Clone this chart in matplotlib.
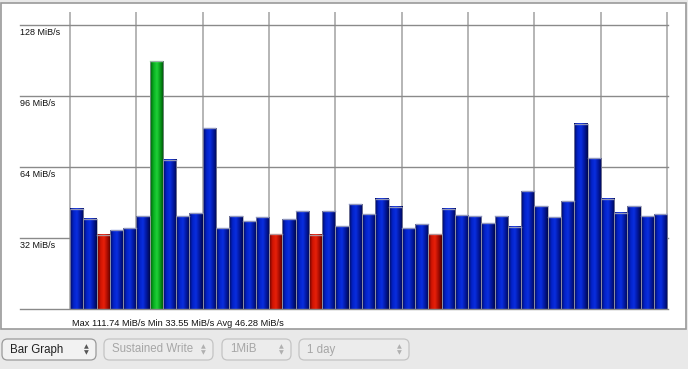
import numpy as np
import matplotlib
matplotlib.use("Agg")
import matplotlib.pyplot as plt
from matplotlib.colors import LinearSegmentedColormap
from matplotlib.patches import Rectangle, FancyBboxPatch

# valores (MiB/s), 45 barras
speeds = [45.1, 40.7, 33.55, 35.6, 36.5, 41.9, 111.74, 67.2, 41.9, 43.1,
          81.4, 36.5, 41.9, 39.5, 41.3, 33.7, 40.4, 44.0, 33.4, 44.0,
          37.3, 47.3, 42.8, 49.7, 46.1, 36.5, 38.2, 33.7, 45.2, 42.2,
          41.9, 38.6, 41.9, 37.0, 53.0, 46.3, 41.3, 48.5, 83.4, 67.9,
          49.6, 43.3, 46.3, 41.9, 42.7]
y_ticks = [32, 64, 96, 128]
y_tick_labels = ["32 MiB/s", "64 MiB/s", "96 MiB/s", "128 MiB/s"]
stat_max, stat_min, stat_avg = 111.74, 33.55, 46.28
buttons = ["Bar Graph", "Sustained Write", "1MiB", "1 day"]

W, H = 688, 369
fig = plt.figure(figsize=(W / 100, H / 100), dpi=100)
fig.patch.set_facecolor("#e9e9e9")

def px(x0, y0, x1, y1):
    # rectangulo en pixeles (origen arriba a la izquierda) -> fraccion de figura
    return x0 / W, 1 - y1 / H, (x1 - x0) / W, (y1 - y0) / H

# panel blanco
l, b, w, h = px(1, 3, 686, 329)
fig.patches.append(Rectangle((l, b), w, h, transform=fig.transFigure,
                             facecolor="white", edgecolor="#9a9a9a", lw=1.2, zorder=-5))

ax = fig.add_axes(px(20, 11.7, 668, 309))
ax.set_zorder(2)
ax.set_facecolor("none")
for s in ax.spines.values():
    s.set_visible(False)
ax.set_xticks([])
ax.set_yticks([])

n = len(speeds)
xs = np.arange(n)

# rejilla
for k in range(0, n + 1, 5):
    ax.axvline(k - 0.5, color="#b0b0b0", lw=1.3, zorder=1)
for v in [0] + y_ticks:
    ax.axhline(v, color="#8a8a8a", lw=1.0, zorder=4 if v == 0 else 1, clip_on=False)

cmaps = {
    "blue": LinearSegmentedColormap.from_list("b", ["#000a5c", "#0322c8", "#0a2ee0", "#0218a0", "#000850"]),
    "red": LinearSegmentedColormap.from_list("r", ["#600000", "#d01403", "#e8200a", "#a80c02", "#540000"]),
    "green": LinearSegmentedColormap.from_list("g", ["#005c0a", "#08b020", "#20d038", "#069818", "#004c08"]),
}
tops = {"blue": "#7f8fe0", "red": "#e08a80", "green": "#a0e8a8"}
grad = np.linspace(0, 1, 40).reshape(1, -1)
vmax = max(speeds)

for x, v in zip(xs, speeds):
    if v == vmax:
        c = "green"
    elif v < 34:
        c = "red"
    else:
        c = "blue"
    ax.imshow(grad, cmap=cmaps[c], extent=(x - 0.5, x + 0.5, 0, v),
              aspect="auto", interpolation="bilinear", zorder=2)
    ax.plot([x - 0.45, x + 0.45], [v, v], color=tops[c], lw=1.0, zorder=3)

ax.bar(xs, speeds, width=1.0, facecolor="none", edgecolor="#9a9aa8", lw=0.5, zorder=3)
ax.set_xlim(-4.27, 44.56)
ax.set_ylim(0, 134)

for v, t in zip(y_ticks, y_tick_labels):
    ax.annotate(t, xy=(-4.27, v), xytext=(0, -2), textcoords="offset points",
                ha="left", va="top", fontsize=6.5, family="Liberation Sans", color="#111111")

fig.text(72 / W, 1 - 323.5 / H,
         f"Max {stat_max:.2f} MiB/s Min {stat_min:.2f} MiB/s Avg {stat_avg:.2f} MiB/s",
         ha="left", va="center", fontsize=6.7, family="Liberation Sans", color="#111111")

# botones de abajo
btn_x = [(2, 96), (104, 213), (222, 291), (299, 409)]
for i, (label, (x0, x1)) in enumerate(zip(buttons, btn_x)):
    active = i == 0
    l, b, w, h = px(x0, 339, x1, 360)
    fig.patches.append(FancyBboxPatch((l, b), w, h, boxstyle="round,pad=0,rounding_size=0.008",
                                      transform=fig.transFigure, mutation_aspect=W / H,
                                      facecolor="#f2f2f2" if active else "#ececec",
                                      edgecolor="#9a9a9a" if active else "#c4c4c4", lw=0.9))
    tc = "#222222" if active else "#a6a6a6"
    fig.text((x0 + 8) / W, 1 - 349.5 / H, label, ha="left", va="center",
             fontsize=8.3, family="Liberation Sans", color=tc)
    fig.text((x1 - 10) / W, 1 - 346.5 / H, "▲", ha="center", va="center",
             fontsize=4.5, color="#555555" if active else "#b0b0b0")
    fig.text((x1 - 10) / W, 1 - 352.5 / H, "▼", ha="center", va="center",
             fontsize=4.5, color="#555555" if active else "#b0b0b0")

fig.savefig("out.png", dpi=100, facecolor=fig.get_facecolor())
